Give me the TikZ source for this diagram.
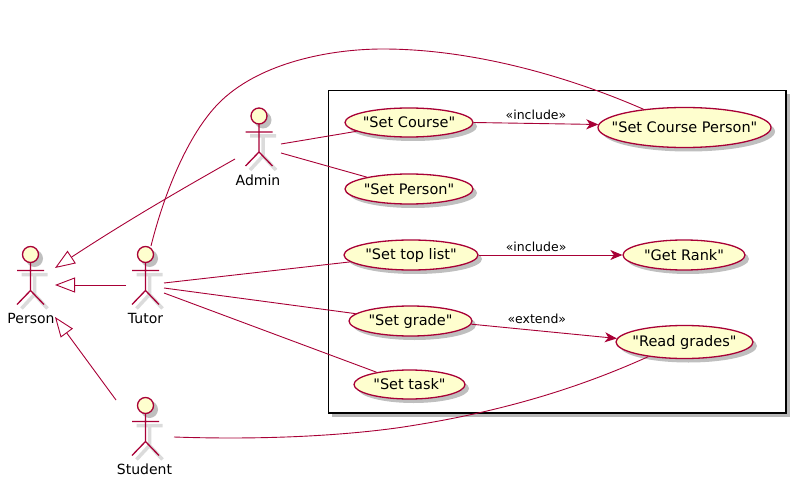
\documentclass[tikz,border=0pt]{standalone}
\usepackage{fontspec}
\newfontfamily\umlfont{DejaVu Sans}
\usetikzlibrary{arrows.meta,shapes.geometric,shadows}
\definecolor{umlred}{HTML}{A80036}
\definecolor{umlfill}{HTML}{FEFECE}
\tikzset{
  usecase/.style={ellipse, draw=umlred, fill=umlfill, line width=1.3pt, inner xsep=-16pt, inner ysep=-5pt,
    font=\umlfont\fontsize{14.5}{16}\selectfont,
    drop shadow={shadow xshift=4pt, shadow yshift=-4pt, fill=black, opacity=0.25}},
  link/.style={draw=umlred, line width=0.9pt},
  include/.style={link, -{Stealth[length=12pt, width=10pt, inset=3.5pt]}},
  inherit/.style={link, -{Triangle[open, length=20pt, width=15pt]}},
  actorlabel/.style={font=\umlfont\fontsize{14}{16}\selectfont},
  edgelabel/.style={font=\umlfont\fontsize{12.5}{14}\selectfont, above, inner sep=3pt},
  actorfig/.pic={
    \draw [black!14, line width=3.5pt] (-9,20) -- (17,20) (4,20) -- (4,40)
      (4,40) -- (-9,54) (4,40) -- (17,54);
    \fill [black!25] (4,4) circle (8.5);
    \draw [umlred, fill=umlfill, line width=1.3pt] (0,0) circle (8);
    \draw [umlred, line width=1.3pt] (0,8) -- (0,36) (-13.5,16) -- (13.5,16)
      (0,36) -- (-13.5,50) (0,36) -- (13.5,50);
  }
}
\begin{document}
\begin{tikzpicture}[x = 1pt, y = -1pt]
  \useasboundingbox (0,0) rectangle (797,481);

  % the frame
  \fill [black!28] (332,94) rectangle (790,417);
  \draw [black, fill=white, line width=1.4pt] (328.5,90.5) rectangle (786,413);

  % actors
  \pic at (30.5,254.5) {actorfig};
  \node [actorlabel] (person) at (31,318) {Person};
  \pic at (145.5,254.5) {actorfig};
  \node [actorlabel] (tutor) at (145.5,318) {Tutor};
  \pic at (259,116) {actorfig};
  \node [actorlabel] (admin) at (258,180) {Admin};
  \pic at (145.5,405.5) {actorfig};
  \node [actorlabel] (student) at (144.5,469) {Student};

  % use cases
  \node [usecase, minimum width=128pt, minimum height=29pt] (setcourse) at (409,122.5) {"Set Course"};
  \node [usecase, minimum width=128pt, minimum height=30pt] (setperson) at (409,189) {"Set Person"};
  \node [usecase, minimum width=134pt, minimum height=30pt] (settoplist) at (411,255) {"Set top list"};
  \node [usecase, minimum width=123pt, minimum height=30pt] (setgrade) at (410.5,321) {"Set grade"};
  \node [usecase, minimum width=111pt, minimum height=29pt] (settask) at (409.5,384.5) {"Set task"};
  \node [usecase, minimum width=173pt, minimum height=40pt] (setcourseperson) at (684.5,127.5) {"Set Course Person"};
  \node [usecase, minimum width=122pt, minimum height=30pt] (getrank) at (684,255) {"Get Rank"};
  \node [usecase, minimum width=137pt, minimum height=33pt] (readgrades) at (684.5,342) {"Read grades"};

  % free ends beside the actors
  \coordinate (persontop) at (55,268);
  \coordinate (personmid) at (55,285);
  \coordinate (personlow) at (55,317);
  \coordinate (adminleft) at (235,159);
  \coordinate (adminright) at (281,144);
  \coordinate (adminlow) at (281,153);
  \coordinate (tutorleft) at (126,285);
  \coordinate (tutortop) at (151,246);
  \coordinate (tutora) at (164,283);
  \coordinate (tutorb) at (164,288);
  \coordinate (tutorc) at (164,293);
  \coordinate (studentleft) at (116,400);
  \coordinate (studentright) at (174,437);

  % connectors
  \draw [inherit] (adminleft) .. controls (180,190) and (125,222) .. (persontop);
  \draw [inherit] (tutorleft) -- (personmid);
  \draw [inherit] (studentleft) -- (personlow);
  \draw [link] (tutortop) .. controls (165,190) and (190,130) .. (222,100)
    .. controls (262,62.5) and (330,49) .. (383,49)
    .. controls (470,49) and (565,75) .. (setcourseperson.156);
  \draw [link] (adminright) -- (setcourse);
  \draw [link] (adminlow) -- (setperson);
  \draw [link] (tutora) -- (settoplist);
  \draw [link] (tutorb) -- (setgrade);
  \draw [link] (tutorc) -- (settask);
  \draw [link] (studentright) .. controls (260,440) and (340,436) .. (400,427.5)
    .. controls (490,414) and (570,392) .. (readgrades.202);
  \draw [include] (setcourse.east) -- node [edgelabel] (incone) {«include»} (setcourseperson.178);
  \draw [include] (settoplist.east) -- node [edgelabel, pos=0.4] (inctwo) {«include»} (getrank.west);
  \draw [include] (setgrade.-3) -- node [edgelabel, pos=0.45, yshift=3pt] (extone) {«extend»} (readgrades.177);
\end{tikzpicture}
\end{document}
